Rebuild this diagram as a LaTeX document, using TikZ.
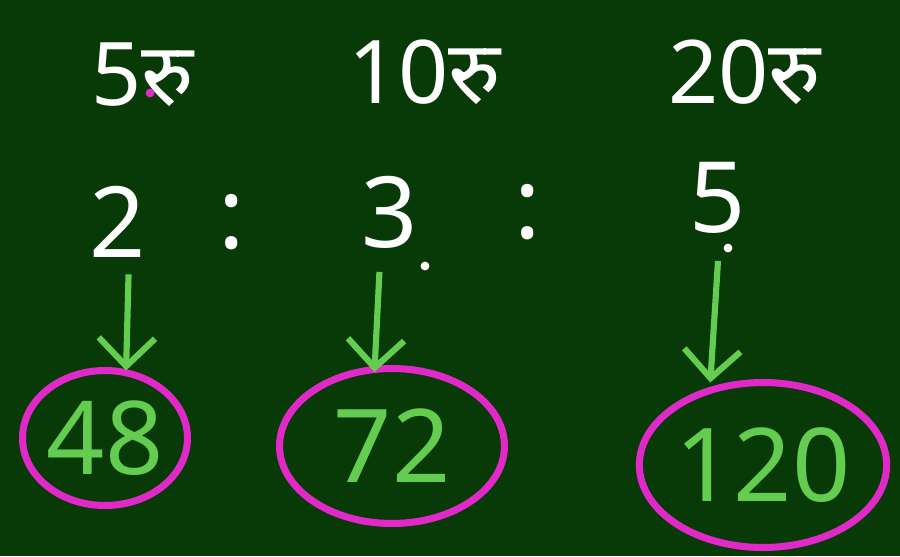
\documentclass[tikz,border=0pt]{standalone}
\usepackage{fontspec}
\setmainfont{Noto Sans}
\newfontfamily\devafont[Script=Devanagari]{Noto Sans}
\usetikzlibrary{positioning,arrows.meta,shapes.geometric}
\usepackage{xcolor}
\definecolor{board}{RGB}{8,58,8}
\definecolor{chalkgreen}{RGB}{100,205,80}
\definecolor{chalkpink}{RGB}{225,40,200}

\begin{document}
\begin{tikzpicture}[
      x=0.02cm, y=-0.02cm,
      >={Straight Barb[length=16pt,width=32pt]},
      note/.style={text=white, font=\devafont\fontsize{50}{54}\selectfont},
      ratio/.style={text=white, font=\fontsize{56}{60}\selectfont},
      answer/.style={ellipse, draw=chalkpink, line width=4pt, text=chalkgreen, inner sep=0pt, font=\fontsize{58}{60}\selectfont},
      pointer/.style={->, draw=chalkgreen, line width=3.5pt}
  ]
    \fill[board] (0,0) rectangle (900,556);

    % rupee notes
    \node[note] (rs5) at (143,75) {5रु};
    \node[note] (rs10) at (425,72) {10रु};
    \node[note] (rs20) at (745,72) {20रु};

    % ratio 2 : 3 : 5
    \node[ratio] (two) at (118,222) {2};
    \node[ratio] (colA) at (232,222) {:};
    \node[ratio] (three) at (390,212) {3};
    \node[ratio] (colB) at (528,212) {:};
    \node[ratio] (five) at (718,198) {5};

    % answers
    \node[answer, minimum width=3.3cm, minimum height=2.7cm] (n48) at (105,438) {48};
    \node[answer, minimum width=4.5cm, minimum height=3.1cm] (n72) at (392,446) {72};
    \node[answer, minimum width=4.8cm, minimum height=3.3cm] (n120) at (763,465) {120};

    \draw[pointer] ([xshift=6pt,yshift=-6pt]two.south) -- ([xshift=12pt,yshift=-2pt]n48.north);
    \draw[pointer] ([xshift=-6pt,yshift=-10pt]three.south) -- ([xshift=-10pt,yshift=-4pt]n72.north);
    \draw[pointer] ([yshift=-12pt]five.south) -- ([xshift=-30pt,yshift=-2pt]n120.north);

    % chalk dots
    \fill[white] (425,266) circle (2.5pt);
    \fill[white] (728,248) circle (2.5pt);
    \fill[chalkpink] (150,93) circle (2.5pt);
  \end{tikzpicture}
\end{document}
